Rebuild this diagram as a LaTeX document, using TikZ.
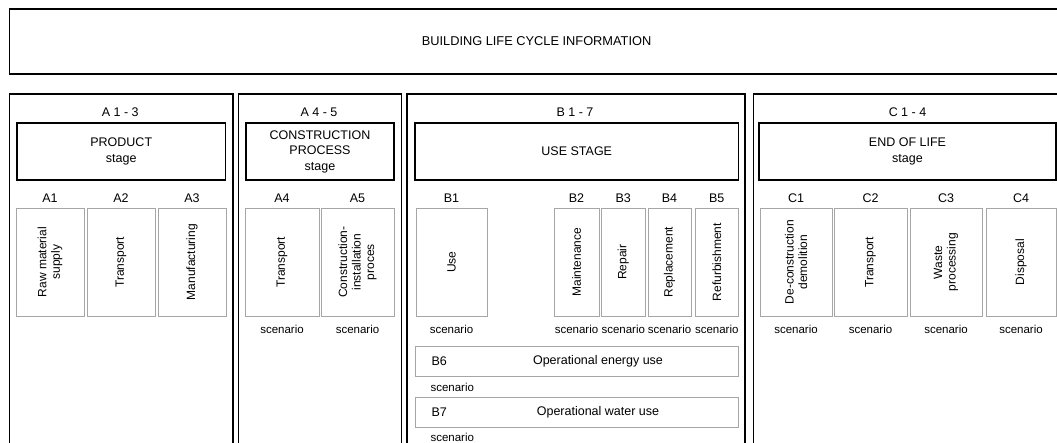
\documentclass[tikz,border=0pt]{standalone}
\usepackage{fontspec}
\setmainfont{Liberation Sans}

\begin{document}
\begin{tikzpicture}[x=1pt, y=-1pt,
  frame/.style={draw, line width=1.6pt, inner sep=0pt, anchor=north west},
  stagebox/.style={draw, line width=1.6pt, inner sep=0pt, align=center, minimum height=57, font=\fontsize{12.5}{15.5}\selectfont},
  module/.style={draw=black!35, line width=.8pt, inner sep=0pt, rotate=90, align=center, minimum width=108.5, font=\fontsize{12}{13.5}\selectfont},
  opbox/.style={draw=black!35, line width=.8pt, inner sep=0pt, minimum width=323.5, minimum height=30},
  code/.style={font=\fontsize{12.5}{14}\selectfont},
  scen/.style={font=\fontsize{11.5}{13}\selectfont}]
  \useasboundingbox (0,0) rectangle (1057,442);
  \fill[white] (0,0) rectangle (1057,442);
  \clip (0,0) rectangle (1057,442);

  \node[frame, minimum width=1054.5, minimum height=65, font=\fontsize{12.8}{14}\selectfont] (lifecycle) at (8.5,8) {BUILDING LIFE CYCLE INFORMATION};

  % the four stage groups
  \node[frame, minimum width=223.5, minimum height=380] (grpA) at (8.5,93) {};
  \node[frame, minimum width=163, minimum height=380] (grpAc) at (237.5,93) {};
  \node[frame, minimum width=338, minimum height=380] (grpB) at (406,93) {};
  \node[frame, minimum width=310, minimum height=380] (grpC) at (752.5,93) {};

  \node[code] (rngA) at (120.25,112) {A 1 - 3};
  \node[code] (rngAc) at (319,112) {A 4 - 5};
  \node[code] (rngB) at (575,112) {B 1 - 7};
  \node[code] (rngC) at (907.5,112) {C 1 - 4};

  \node[stagebox, minimum width=208.5] (product) at (121.25,151.5) {PRODUCT\\stage};
  \node[stagebox, minimum width=148] (construction) at (320,151.5) {CONSTRUCTION\\PROCESS\\stage};
  \node[stagebox, minimum width=323.5] (use) at (576.75,151.5) {USE STAGE};
  \node[stagebox, minimum width=297] (endlife) at (907.5,151.5) {END OF LIFE\\stage};

  % modules
  \node[code] (a1c) at (50,198) {A1};
  \node[code] (a2c) at (121,198) {A2};
  \node[code] (a3c) at (192,198) {A3};
  \node[code] (a4c) at (282,198) {A4};
  \node[code] (a5c) at (357.5,198) {A5};
  \node[code] (b1c) at (451.5,198) {B1};
  \node[code] (b2c) at (576.5,198) {B2};
  \node[code] (b3c) at (623.25,198) {B3};
  \node[code] (b4c) at (669.5,198) {B4};
  \node[code] (b5c) at (716.75,198) {B5};
  \node[code] (c1c) at (796,198) {C1};
  \node[code] (c2c) at (870.5,198) {C2};
  \node[code] (c3c) at (946,198) {C3};
  \node[code] (c4c) at (1021,198) {C4};

  \node[module, minimum height=68] (a1) at (50,262.25) {Raw material\\supply};
  \node[module, minimum height=68] (a2) at (121,262.25) {Transport};
  \node[module, minimum height=68] (a3) at (192,262.25) {Manufacturing};
  \node[module, minimum height=74] (a4) at (282,262.25) {Transport};
  \node[module, minimum height=73] (a5) at (357.5,262.25) {Construction-\\installation\\proces};
  \node[module, minimum height=71] (b1) at (451.5,262.25) {Use};
  \node[module, minimum height=45] (b2) at (576.5,262.25) {Maintenance};
  \node[module, minimum height=43.5] (b3) at (623.25,262.25) {Repair};
  \node[module, minimum height=43] (b4) at (669.5,262.25) {Replacement};
  \node[module, minimum height=43.5] (b5) at (716.75,262.25) {Refurbishment};
  \node[module, minimum height=72] (c1) at (796,262.25) {De-construction\\demolition};
  \node[module, minimum height=73] (c2) at (870.5,262.25) {Transport};
  \node[module, minimum height=72] (c3) at (946,262.25) {Waste\\processing};
  \node[module, minimum height=70] (c4) at (1021,262.25) {Disposal};

  \node[scen] (a4s) at (282,329) {scenario};
  \node[scen] (a5s) at (357.5,329) {scenario};
  \node[scen] (b1s) at (451.5,329) {scenario};
  \node[scen] (b2s) at (576.5,329) {scenario};
  \node[scen] (b3s) at (623.25,329) {scenario};
  \node[scen] (b4s) at (669.5,329) {scenario};
  \node[scen] (b5s) at (716.75,329) {scenario};
  \node[scen] (c1s) at (796,329) {scenario};
  \node[scen] (c2s) at (870.5,329) {scenario};
  \node[scen] (c3s) at (946,329) {scenario};
  \node[scen] (c4s) at (1021,329) {scenario};

  % operational use
  \node[opbox] (b6) at (576.75,361) {};
  \node[code, anchor=west] (b6c) at (428,361) {B6};
  \node[code] (b6t) at (598,361) {Operational energy use};
  \node[scen, anchor=west] (b6s) at (427,387) {scenario};
  \node[opbox] (b7) at (576.75,412) {};
  \node[code, anchor=west] (b7c) at (428,412) {B7};
  \node[code] (b7t) at (598,412) {Operational water use};
  \node[scen, anchor=west] (b7s) at (427,437) {scenario};
\end{tikzpicture}
\end{document}
